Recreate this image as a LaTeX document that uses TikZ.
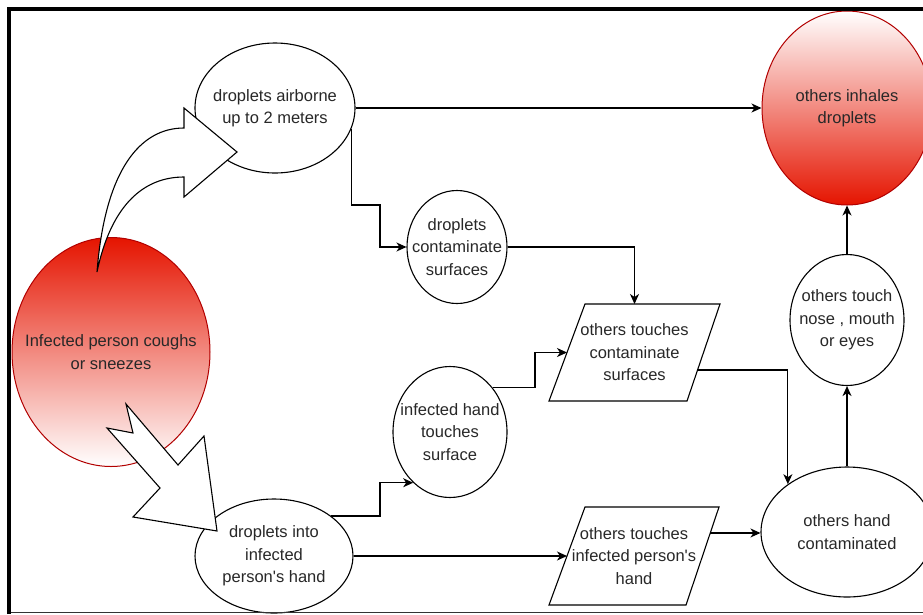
\documentclass[tikz,border=0pt]{standalone}
\usepackage{fontspec}
\setmainfont{Liberation Sans}
\usetikzlibrary{shapes.geometric,arrows.meta,calc}
\definecolor{rtop}{RGB}{229,20,0}
\definecolor{rline}{RGB}{178,0,0}
\definecolor{txt}{RGB}{40,40,40}
\begin{document}
\begin{tikzpicture}[x=1pt,y=-1pt,
  every node/.style={font=\fontsize{16.5}{22.5}\selectfont, text=txt, align=center},
  oval/.style={ellipse, draw=black, line width=1.1pt, fill=white, inner xsep=-45pt, inner ysep=-30pt},
  redtop/.style={ellipse, draw=rline, line width=1pt, inner xsep=-45pt, inner ysep=-30pt, top color=rtop, bottom color=white},
  redbot/.style={ellipse, draw=rline, line width=1pt, inner xsep=-45pt, inner ysep=-30pt, top color=white, bottom color=rtop},
  pline/.style={draw=black, line width=1.1pt, fill=white, line join=miter},
  ptext/.style={inner sep=0pt},
  conn/.style={line width=1.2pt, -{Stealth[length=10pt,width=9pt,inset=3pt]}},
  block/.style={draw=black, line width=1.1pt, fill=white, line join=miter},
]
\useasboundingbox (0,0) rectangle (923,614);
\fill[white] (0,0) rectangle (923,614);

% ellipses
\node[redtop, minimum width=198pt, minimum height=229pt] (inf) at (111,352) {Infected person coughs\\or sneezes};
\node[oval, minimum width=160pt, minimum height=130pt] (air) at (275,108) {droplets airborne\\up to 2 meters};
\node[oval, minimum width=100pt, minimum height=113pt] (dcs) at (457,247) {droplets\\contaminate\\surfaces};
\node[oval, minimum width=114pt, minimum height=131pt] (ihs) at (450,432) {infected hand\\touches\\surface};
\node[oval, minimum width=158pt, minimum height=114pt] (dih) at (274,556) {droplets into\\infected\\person\textquotesingle s hand};
\node[oval, minimum width=114pt, minimum height=131pt] (nose) at (847,320) {others touch\\nose , mouth\\or eyes};
\node[oval, minimum width=172pt, minimum height=130pt] (ohc) at (847,532) {others hand\\contaminated};
\node[redbot, minimum width=170pt, minimum height=194pt] (inh) at (847,108) {others inhales\\droplets};

% parallelograms
\coordinate (p1tl) at (585,304); \coordinate (p1tr) at (720,304);
\coordinate (p1br) at (687,401); \coordinate (p1bl) at (549,401);
\draw[pline] (p1tl) -- (p1tr) -- (p1br) -- (p1bl) -- cycle;
\node[ptext] (p1) at (634.5,352.5) {others touches\\contaminate\\surfaces};
\coordinate (p2tl) at (585,507); \coordinate (p2tr) at (719,507);
\coordinate (p2br) at (686,605); \coordinate (p2bl) at (549,605);
\draw[pline] (p2tl) -- (p2tr) -- (p2br) -- (p2bl) -- cycle;
\node[ptext] (p2) at (634,556) {others touches\\infected person\textquotesingle s\\hand};

\coordinate (p1n) at (p1tl -| p1);
\coordinate (p1w) at ($(p1tl)!0.5!(p1bl)$);
\coordinate (p1e) at ($(p1tr)!0.68!(p1br)$);
\coordinate (p2w) at ($(p2tl)!0.5!(p2bl)$);
\coordinate (p2e) at ($(p2tr)!0.265!(p2br)$);

% block arrows
\draw[block] (97,272) .. controls (105,170) and (140,128) .. (184,128) -- (184,108) -- (237,152)
  -- (184,197) -- (184,177) .. controls (140,177) and (110,210) .. (97,272) -- cycle;
\draw[block] (126,404) -- (178,465) -- (204,436) -- (217,531) -- (133,517) -- (160,488)
  -- (107,428) -- (133,433) -- cycle;

% connectors
\draw[conn] (air) -- (inh);
\draw[conn] (air.-15) |- (380,205) |- (dcs.west);
\draw[conn] (dcs.east) -| (p1n);
\draw[conn] (ihs.46) -| (535,370) |- (p1w);
\draw[conn] (dih.35) -| (380,500) |- (ihs.234);
\draw[conn] (dih.east) -- (p2w);
\draw[conn] (p1e) -| (ohc.141);
\draw[conn] (p2e) -- (p2e -| ohc.west);
\draw[conn] (ohc.north) -- (nose.south);
\draw[conn] (nose.north) -- (inh.south);

% frame
\draw[line width=1.5pt, black!80] (9,612.5) -- (923,612.5);
\draw[line width=3.5pt] (9,614) -- (9,9) -- (923,9);
\end{tikzpicture}
\end{document}
